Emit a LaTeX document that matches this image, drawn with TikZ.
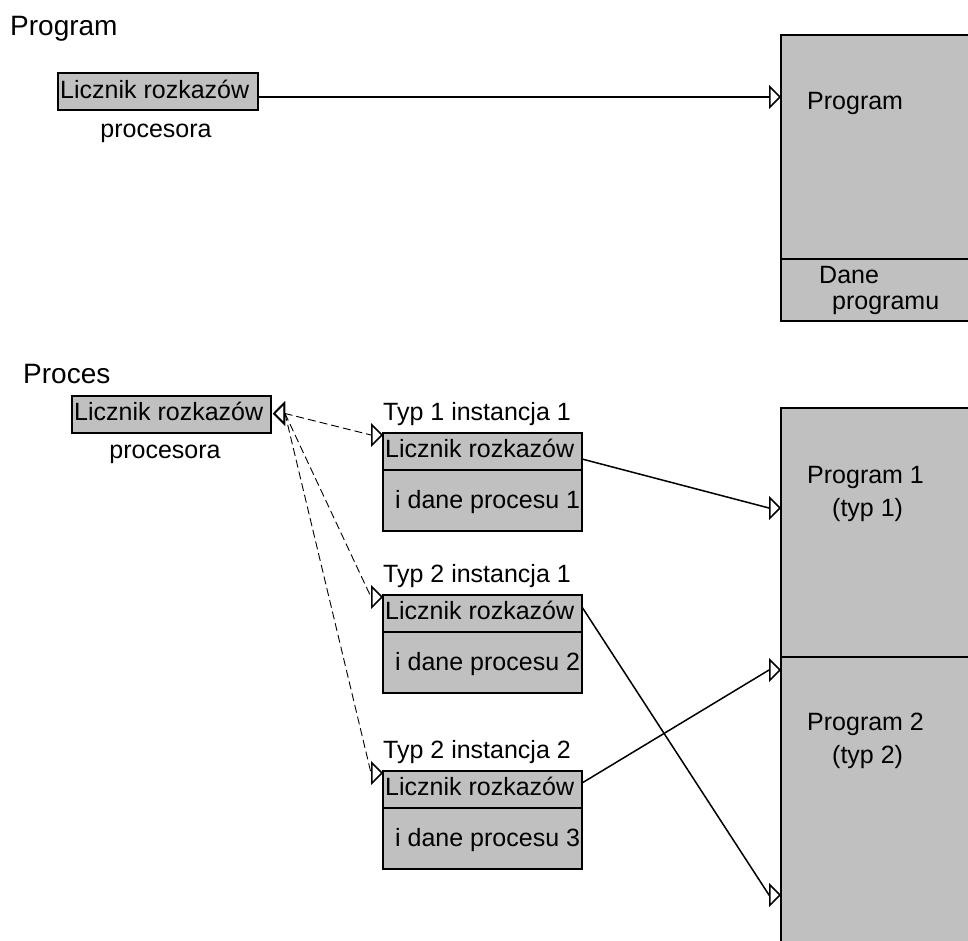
\documentclass[tikz,border=0pt]{standalone}
\usepackage{fontspec}
\setmainfont{Liberation Sans}
\usetikzlibrary{arrows.meta,calc}
\definecolor{boxgray}{HTML}{C0C0C0}
\tikzset{
  gbox/.style={draw=black, fill=boxgray, line width=1.8pt, inner sep=0pt,
    outer sep=0pt, anchor=north west, minimum width=#1},
  txt/.style={font=\fontsize{25}{30}\selectfont, inner sep=0pt, anchor=base west},
  ctxt/.style={txt, anchor=base},
  title/.style={font=\fontsize{28}{34}\selectfont, inner sep=0pt, anchor=base west},
  tip/.style={Triangle[open, length=12pt, width=24pt, line width=1.5pt]},
  conn/.style={draw=black, line width=1.5pt, -{Triangle[open, length=12pt, width=24pt]}},
  dconn/.style={draw=black, line width=0.9pt, dash pattern=on 8pt off 4pt,
    {Triangle[open, length=12pt, width=24pt, line width=1.5pt]}-{Triangle[open, length=12pt, width=24pt, line width=1.5pt]}},
}
\begin{document}
\begin{tikzpicture}[x=1pt, y=-1pt]
  \useasboundingbox (0,0) rectangle (968,940);
  \clip (0,0) rectangle (968,940);

  % ---- upper part: a program ----
  \node[title] (tProgram) at (10,35) {Program};
  \node[gbox=200pt, minimum height=37pt] (pcTop) at (58,73) {};
  \node[txt] (pcTopTxt) at (60,98) {Licznik rozkazów};
  \node[ctxt] (pcTopSub) at (156,137) {procesora};

  \node[gbox=260pt, minimum height=224pt] (progCode) at (781,35) {};
  \node[gbox=260pt, minimum height=62pt] (progData) at (781,259) {};
  \node[txt] (progTxt) at (807,109) {Program};
  \node[txt] (dataTxt1) at (819,283) {Dane};
  \node[txt] (dataTxt2) at (832,309) {programu};

  \draw[conn] ($(pcTop.north east)+(0,24)$) -- ($(progCode.north west)+(-12,62)$)
    -- ($(progCode.north west)+(0,62)$);

  % ---- lower part: processes ----
  \node[title] (tProces) at (23,383) {Proces};
  \node[gbox=199pt, minimum height=37pt] (pcProc) at (72,396) {};
  \node[txt] (pcProcTxt) at (74,420) {Licznik rozkazów};
  \node[ctxt] (pcProcSub) at (165,458) {procesora};
  \coordinate (pcTip) at ($(pcProc.east)+(2,-1)$);

  % program images
  \node[gbox=260pt, minimum height=249pt] (prog1) at (781,408) {};
  \node[gbox=260pt, minimum height=320pt] (prog2) at (781,657) {};
  \node[txt] (prog1a) at (807,483) {Program 1};
  \node[txt] (prog1b) at (832,516) {(typ 1)};
  \node[txt] (prog2a) at (807,730) {Program 2};
  \node[txt] (prog2b) at (832,763) {(typ 2)};

  % process instances
  \foreach \i/\top/\lab in {1/433/Typ 1 instancja 1, 2/595/Typ 2 instancja 1, 3/771/Typ 2 instancja 2} {
    \node[txt] (lab\i) at (383,\top-13) {\lab};
    \node[gbox=199pt, minimum height=37pt] (lic\i) at (383,\top) {};
    \node[gbox=199pt, minimum height=61pt] (dat\i) at (383,\top+37) {};
    \node[txt] (licTxt\i) at (385,\top+24) {Licznik rozkazów};
    \node[txt] (datTxt\i) at (395,\top+75) {i dane procesu \i};
    \draw[dconn] (pcTip) -- ++(12,0) -- ($(lic\i.north west)+(-12,2)$)
      -- ($(lic\i.north west)+(0,2)$);
  }

  % instances to their program images
  \draw[conn] ($(lic1.north east)+(0,26)$) -- ($(prog1.north west)+(-12,100)$)
    -- ($(prog1.north west)+(0,100)$);
  \draw[conn] ($(lic2.north east)+(0,12)$) -- ($(prog2.north west)+(-12,238)$)
    -- ($(prog2.north west)+(0,238)$);
  \draw[conn] ($(lic3.north east)+(0,12)$) -- ($(prog2.north west)+(-12,13)$)
    -- ($(prog2.north west)+(0,13)$);
\end{tikzpicture}
\end{document}
